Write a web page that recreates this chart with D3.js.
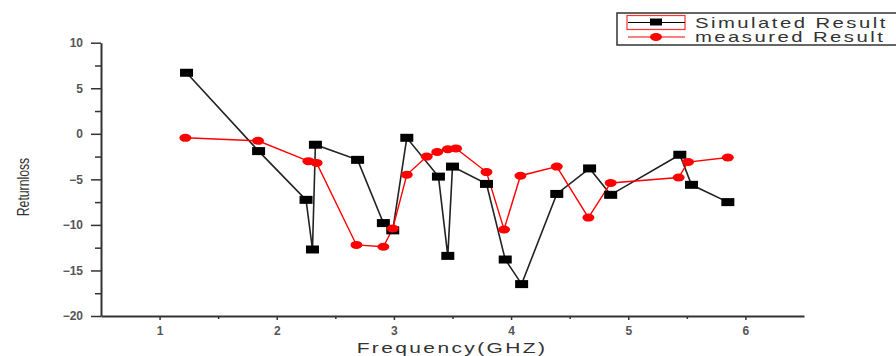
<!DOCTYPE html>
<html>
<head>
<meta charset="utf-8">
<script src="https://cdn.jsdelivr.net/npm/d3@7"></script>
<style>
  body { margin: 0; background: #fff; }
  text { font-family: "Liberation Sans", Arial, sans-serif; }
</style>
</head>
<body>
<div id="chart"></div>
<script>
// data
const simFreq = [1.23, 1.845, 2.25, 2.305, 2.33, 2.69, 2.91, 2.99, 3.11, 3.38, 3.46, 3.50, 3.79, 3.95, 4.09, 4.39, 4.67, 4.85, 5.44, 5.54, 5.85];
const simLoss = [6.7, -1.9, -7.25, -12.7, -1.2, -2.86, -9.8, -10.6, -0.44, -4.7, -13.4, -3.6, -5.5, -13.8, -16.5, -6.6, -3.8, -6.7, -2.3, -5.6, -7.5];
const measFreq = [1.22, 1.84, 2.27, 2.34, 2.68, 2.91, 2.99, 3.11, 3.28, 3.37, 3.46, 3.53, 3.79, 3.94, 4.08, 4.39, 4.66, 4.85, 5.43, 5.51, 5.85];
const measLoss = [-0.44, -0.77, -3.0, -3.2, -12.2, -12.4, -10.4, -4.5, -2.5, -2.0, -1.7, -1.6, -4.2, -10.5, -4.6, -3.6, -9.2, -5.4, -4.8, -3.1, -2.6];
const xTicks = [1, 2, 3, 4, 5, 6];
const yTicks = [10, 5, 0, -5, -10, -15, -20];
const seriesNames = ["Simulated Result", "measured Result"];

const width = 896;
const height = 356;
const svg = d3.select("#chart").append("svg")
  .attr("width", width)
  .attr("height", height);

const x = d3.scaleLinear().domain([0.5, 6.5]).range([101, 804]);
const y = d3.scaleLinear().domain([-20, 10]).range([316, 42.7]);

// minor ticks first
svg.append("g").attr("transform", "translate(101,0)")
  .call(d3.axisLeft(y).tickValues([7.5, 2.5, -2.5, -7.5, -12.5, -17.5]).tickSize(6).tickFormat(""))
  .call(g => g.select(".domain").remove());
svg.append("g").attr("transform", "translate(0,316)")
  .call(d3.axisBottom(x).tickValues([1.5, 2.5, 3.5, 4.5, 5.5]).tickSize(3).tickFormat(""))
  .call(g => g.select(".domain").remove());

svg.append("g").attr("transform", "translate(101,0)")
  .call(d3.axisLeft(y).tickValues(yTicks).tickSize(10).tickSizeOuter(0).tickPadding(8).tickFormat(d3.format("d")));
svg.append("g").attr("transform", "translate(0,316)")
  .call(d3.axisBottom(x).tickValues(xTicks).tickSize(4).tickSizeOuter(0).tickPadding(6).tickFormat(d3.format("d")));

svg.selectAll(".domain").attr("stroke", "#333").attr("stroke-width", 2);
svg.selectAll(".tick line").attr("stroke", "#333").attr("stroke-width", 1.5);
svg.selectAll(".tick text").attr("fill", "#555").attr("font-size", 12).attr("font-weight", "bold")
  .style("font-family", "Liberation Sans, Arial, sans-serif");

svg.append("text")
  .attr("transform", "translate(29,187) rotate(-90) scale(0.72,1)")
  .attr("text-anchor", "middle")
  .attr("font-size", 17)
  .attr("fill", "#333")
  .text("Returnloss");

svg.append("text")
  .attr("transform", "translate(452,353) scale(1.4,1)")
  .attr("text-anchor", "middle")
  .attr("font-size", 15)
  .attr("letter-spacing", 1.7)
  .attr("fill", "#333")
  .text("Frequency(GHZ)");

const sim = simFreq.map((f, i) => [f, simLoss[i]]);
const meas = measFreq.map((f, i) => [f, measLoss[i]]);
const line = d3.line().x(d => x(d[0])).y(d => y(d[1]));

svg.append("path").datum(sim)
  .attr("fill", "none").attr("stroke", "#222").attr("stroke-width", 1.6)
  .attr("d", line);
svg.append("path").datum(meas)
  .attr("fill", "none").attr("stroke", "#ff0000").attr("stroke-width", 1.4)
  .attr("d", line);

svg.selectAll("rect.sim").data(sim).enter().append("rect")
  .attr("class", "sim")
  .attr("x", d => x(d[0]) - 6.5)
  .attr("y", d => y(d[1]) - 4)
  .attr("width", 13).attr("height", 8)
  .attr("fill", "#000");

svg.selectAll("ellipse.meas").data(meas).enter().append("ellipse")
  .attr("class", "meas")
  .attr("cx", d => x(d[0]))
  .attr("cy", d => y(d[1]))
  .attr("rx", 6).attr("ry", 4)
  .attr("fill", "#ff0000");

// legend
const legend = svg.append("g");
legend.append("rect")
  .attr("x", 617).attr("y", 13).attr("width", 290).attr("height", 32)
  .attr("fill", "#fff").attr("stroke", "#333").attr("stroke-width", 1.5);
legend.append("rect")
  .attr("x", 627).attr("y", 15.5).attr("width", 58).attr("height", 14)
  .attr("fill", "none").attr("stroke", "#ff3030").attr("stroke-width", 1.2);
seriesNames.forEach((name, i) => {
  const ly = 22.5 + i * 14.5;
  legend.append("line")
    .attr("x1", 628).attr("x2", 685).attr("y1", ly).attr("y2", ly)
    .attr("stroke", i === 0 ? "#000" : "#ff0000").attr("stroke-width", 1.2);
  if (i === 0) {
    legend.append("rect").attr("x", 650).attr("y", ly - 4).attr("width", 12).attr("height", 7).attr("fill", "#000");
  } else {
    legend.append("ellipse").attr("cx", 656).attr("cy", ly).attr("rx", 6).attr("ry", 4).attr("fill", "#ff0000");
  }
  legend.append("text")
    .attr("transform", `translate(695,${ly + 5}) scale(1.45,1)`)
    .attr("font-size", 14)
    .attr("letter-spacing", 1.7)
    .attr("fill", "#333")
    .text(name);
});
</script>
</body>
</html>
